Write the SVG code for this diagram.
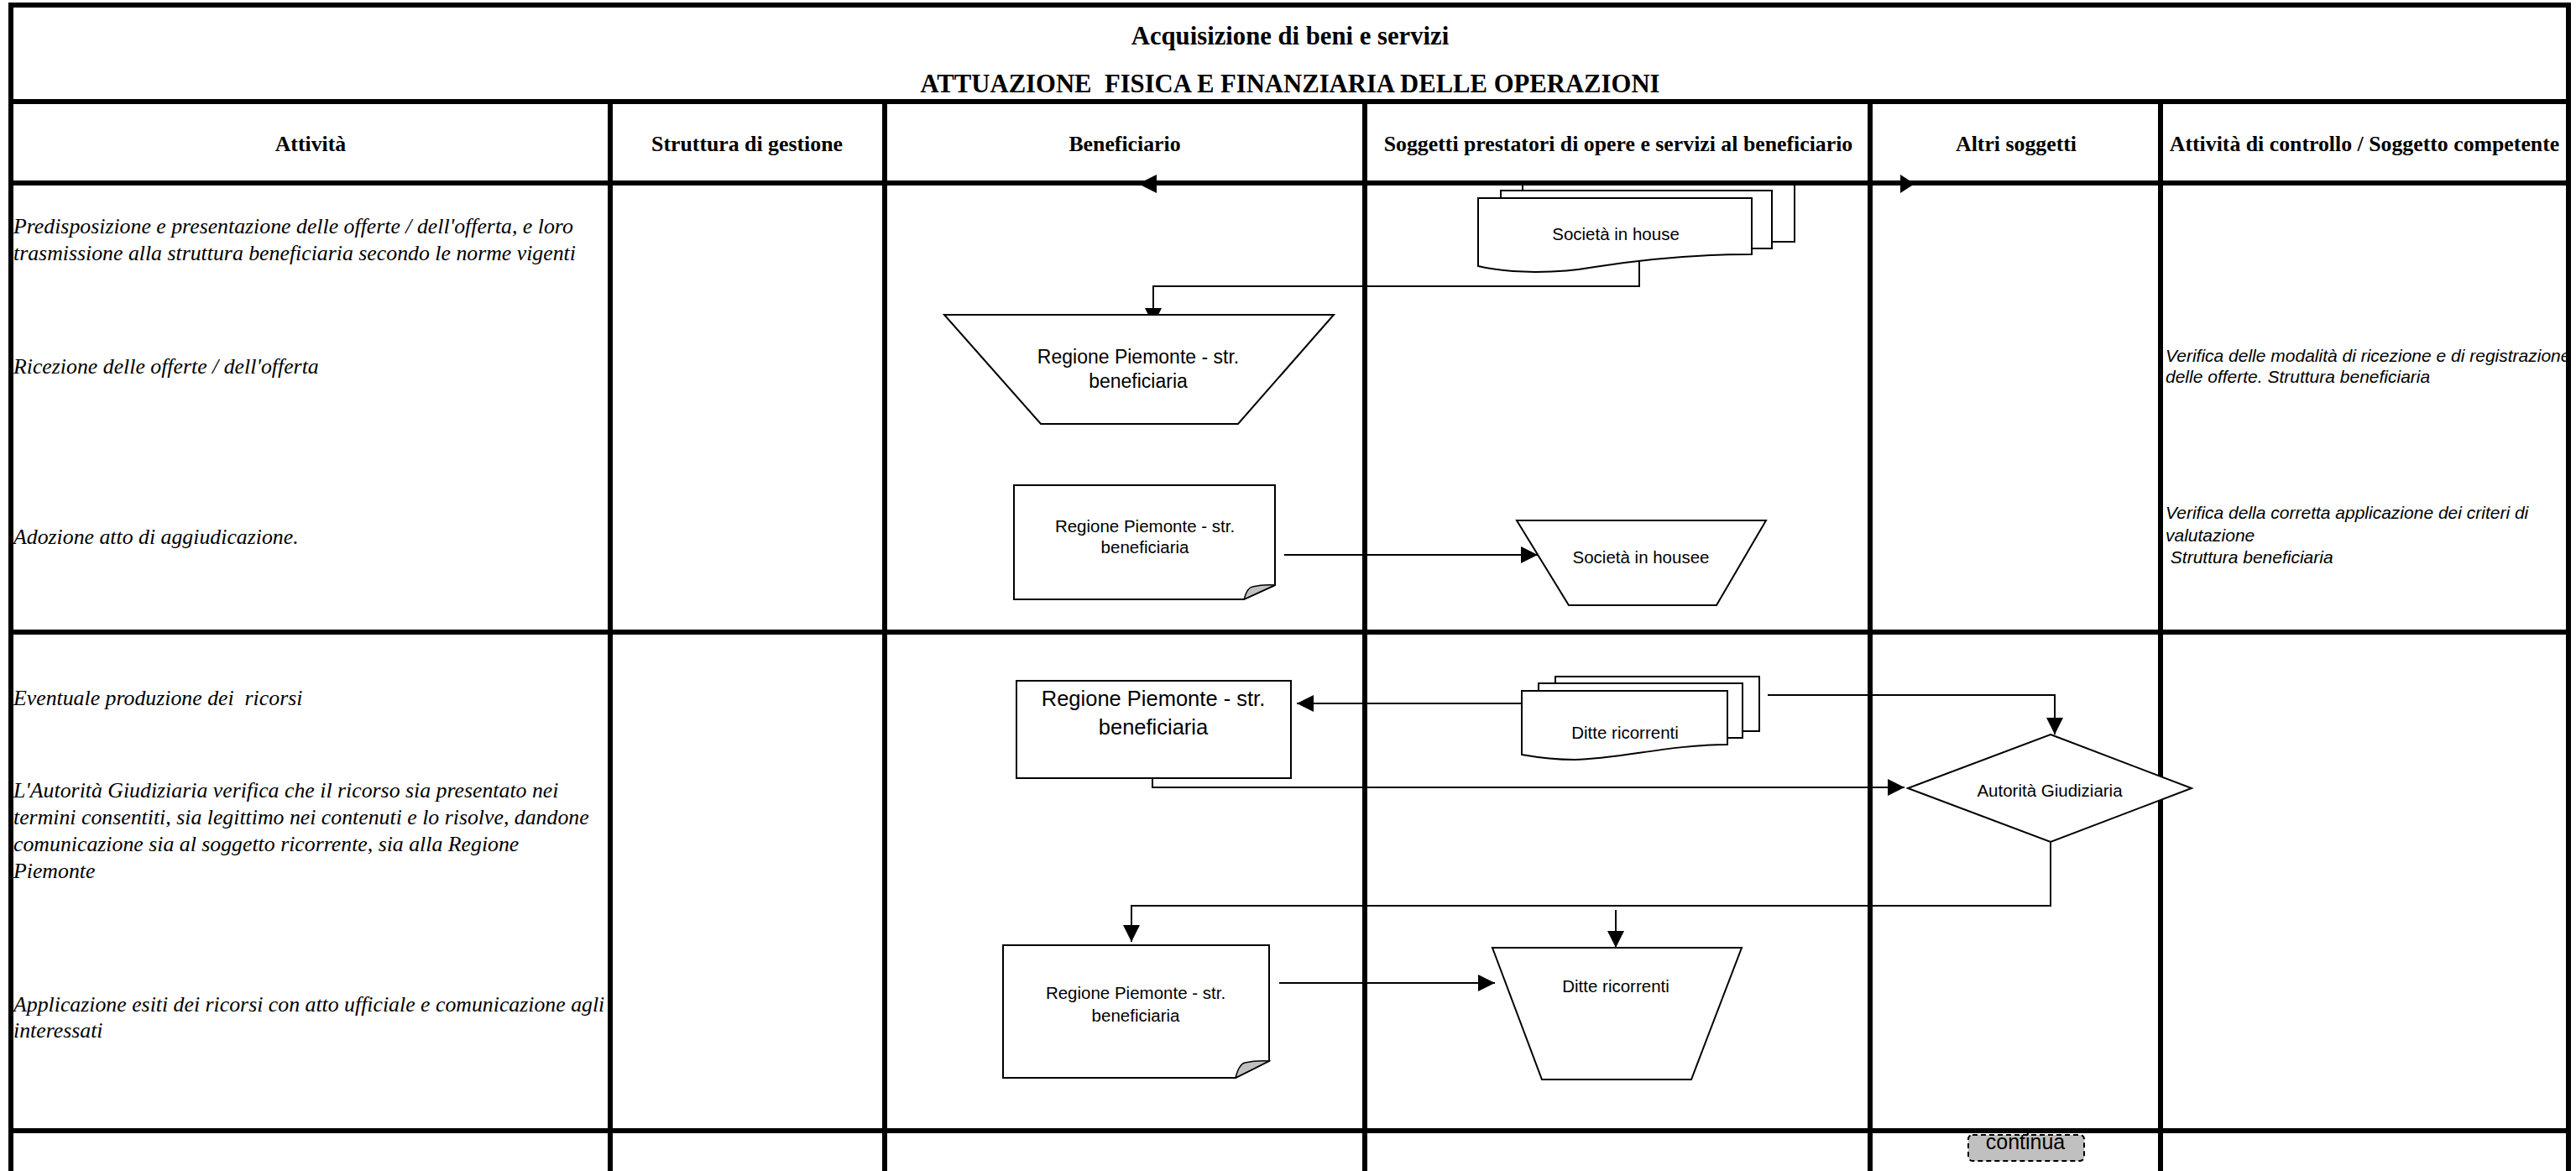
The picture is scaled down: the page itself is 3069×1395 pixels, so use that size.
<svg xmlns="http://www.w3.org/2000/svg" width="3069" height="1395" viewBox="0 0 3069 1395">
<style>
.grid{stroke:#000;stroke-width:6;fill:none}
.shape{fill:#fff;stroke:#000;stroke-width:2}
.fold{fill:#c0c0c0;stroke:#000;stroke-width:1.5}
.conn{fill:none;stroke:#000;stroke-width:2}
.title{font-family:"Liberation Serif",serif;font-weight:bold;font-size:30.7px;text-anchor:middle}
.head{font-family:"Liberation Serif",serif;font-weight:bold;font-size:25.8px;text-anchor:middle}
.act{font-family:"Liberation Serif",serif;font-style:italic;font-size:25.8px}
.ctrl{font-family:"Liberation Sans",Arial,sans-serif;font-style:italic;font-size:21px}
.lbl{font-family:"Liberation Sans",Arial,sans-serif;font-size:20.5px;text-anchor:middle}
</style>
<defs>
<marker id="ah" markerUnits="userSpaceOnUse" markerWidth="20" markerHeight="20" refX="20" refY="10" orient="auto">
<path d="M0,0 L20,10 L0,20 Z" fill="#000"/>
</marker>
</defs>
<rect x="0" y="0" width="3069" height="1395" fill="#fff"/>
<g id="grid">
<path class="grid" d="M13,1395 V6 H3060 V1395"/>
<path class="grid" d="M13,121 H3060 M13,218 H3060 M13,753 H3060 M13,1347 H3060"/>
<path class="grid" d="M727,121 V1395 M1054,121 V1395 M1626,121 V1395 M2228,121 V1395 M2574,121 V1395"/>
<polygon points="1356,219 1378,208 1378,230" fill="#000"/>
<polygon points="2281,219 2264,208 2264,230" fill="#000"/>
</g>
<g id="titles">
<text class="title" x="1537" y="53">Acquisizione di beni e servizi</text>
<text class="title" x="1537" y="110" xml:space="preserve">ATTUAZIONE  FISICA E FINANZIARIA DELLE OPERAZIONI</text>
<text class="head" x="370" y="180">Attività</text>
<text class="head" x="890" y="180">Struttura di gestione</text>
<text class="head" x="1340" y="180">Beneficiario</text>
<text class="head" x="1928" y="180">Soggetti prestatori di opere e servizi al beneficiario</text>
<text class="head" x="2402" y="180">Altri soggetti</text>
<text class="head" x="2817" y="180">Attività di controllo / Soggetto competente</text>
</g>
<g id="activities">
<text class="act" x="16" y="278">Predisposizione e presentazione delle offerte / dell'offerta, e loro</text>
<text class="act" x="16" y="310">trasmissione alla struttura beneficiaria secondo le norme vigenti</text>
<text class="act" x="16" y="445">Ricezione delle offerte / dell'offerta</text>
<text class="act" x="16" y="648">Adozione atto di aggiudicazione.</text>
<text class="act" x="16" y="840" xml:space="preserve">Eventuale produzione dei  ricorsi</text>
<text class="act" x="16" y="950">L'Autorità Giudiziaria verifica che il ricorso sia presentato nei</text>
<text class="act" x="16" y="982">termini consentiti, sia legittimo nei contenuti e lo risolve, dandone</text>
<text class="act" x="16" y="1014">comunicazione sia al soggetto ricorrente, sia alla Regione</text>
<text class="act" x="16" y="1046">Piemonte</text>
<text class="act" x="16" y="1205">Applicazione esiti dei ricorsi con atto ufficiale e comunicazione agli</text>
<text class="act" x="16" y="1236">interessati</text>
</g>
<g id="controls">
<text class="ctrl" x="2580" y="431">Verifica delle modalità di ricezione e di registrazione</text>
<text class="ctrl" x="2580" y="456">delle offerte. Struttura beneficiaria</text>
<text class="ctrl" x="2580" y="618">Verifica della corretta applicazione dei criteri di</text>
<text class="ctrl" x="2580" y="645">valutazione</text>
<text class="ctrl" x="2580" y="671" xml:space="preserve"> Struttura beneficiaria</text>
</g>
<g id="connectors">
<path class="conn" d="M1953,311 V341 H1374 V387" marker-end="url(#ah)"/>
<path class="conn" d="M1530,661 H1832" marker-end="url(#ah)"/>
<path class="conn" d="M1815,838 H1545" marker-end="url(#ah)"/>
<path class="conn" d="M2106,828 H2448 V875" marker-end="url(#ah)"/>
<path class="conn" d="M1373,927 V938 H2269" marker-end="url(#ah)"/>
<path class="conn" d="M2443,1003 V1079 H1348 V1122" marker-end="url(#ah)"/>
<path class="conn" d="M1925,1084 V1129" marker-end="url(#ah)"/>
<path class="conn" d="M1524,1171 H1781" marker-end="url(#ah)"/>
</g>
<g id="node-societa-in-house">
<rect class="shape" x="1814" y="220" width="324" height="68"/>
<rect class="shape" x="1788" y="227" width="323" height="69"/>
<path class="shape" d="M1761,236 H2087 V303 C2010,303 1950,310 1900,318 C1855,326 1800,326 1761,317 Z"/>
<text class="lbl" x="1925" y="286">Società in house</text>
</g>
<g id="node-regione-1">
<polygon class="shape" points="1125,375 1589,375 1475,505 1240,505"/>
<text class="lbl" x="1356" y="433" style="font-size:23px">Regione Piemonte - str.</text>
<text class="lbl" x="1356" y="462" style="font-size:23px">beneficiaria</text>
</g>
<g id="node-regione-2">
<path class="shape" d="M1208,578 H1519 V697 L1482,714 H1208 Z"/>
<path class="fold" d="M1482,714 Q1486,700 1492,699 Q1505,696 1519,697 Z"/>
<text class="lbl" x="1364" y="634">Regione Piemonte - str.</text>
<text class="lbl" x="1364" y="659">beneficiaria</text>
</g>
<g id="node-societa-in-housee">
<polygon class="shape" points="1807,620 2104,620 2045,721 1869,721"/>
<text class="lbl" x="1955" y="671">Società in housee</text>
</g>
<g id="node-regione-3">
<rect class="shape" x="1211" y="811" width="327" height="116"/>
<text class="lbl" x="1374" y="841" style="font-size:25.5px">Regione Piemonte - str.</text>
<text class="lbl" x="1374" y="875" style="font-size:25.5px">beneficiaria</text>
</g>
<g id="node-ditte-ricorrenti-1">
<rect class="shape" x="1853" y="806" width="243" height="65"/>
<rect class="shape" x="1833" y="814" width="243" height="65"/>
<path class="shape" d="M1813,823 H2058 V887 C1990,887 1930,904 1876,905 C1850,905 1830,902 1813,899 Z"/>
<text class="lbl" x="1936" y="880">Ditte ricorrenti</text>
</g>
<g id="node-autorita">
<polygon class="shape" points="2443,875 2611,939 2443,1003 2273,939"/>
<text class="lbl" x="2442" y="949">Autorità Giudiziaria</text>
</g>
<g id="node-regione-4">
<path class="shape" d="M1195,1126 H1512 V1264 L1472,1284 H1195 Z"/>
<path class="fold" d="M1472,1284 Q1476,1268 1483,1266 Q1497,1263 1512,1264 Z"/>
<text class="lbl" x="1353" y="1190">Regione Piemonte - str.</text>
<text class="lbl" x="1353" y="1217">beneficiaria</text>
</g>
<g id="node-ditte-ricorrenti-2">
<polygon class="shape" points="1778,1129 2075,1129 2015,1286 1837,1286"/>
<text class="lbl" x="1925" y="1182">Ditte ricorrenti</text>
</g>
<g id="node-continua">
<rect x="2345" y="1352" width="138" height="31" rx="5" fill="#c0c0c0" stroke="#000" stroke-width="2" stroke-dasharray="6,4"/>
<text class="lbl" x="2413" y="1369" style="font-size:25px">continua</text>
</g>
</svg>
